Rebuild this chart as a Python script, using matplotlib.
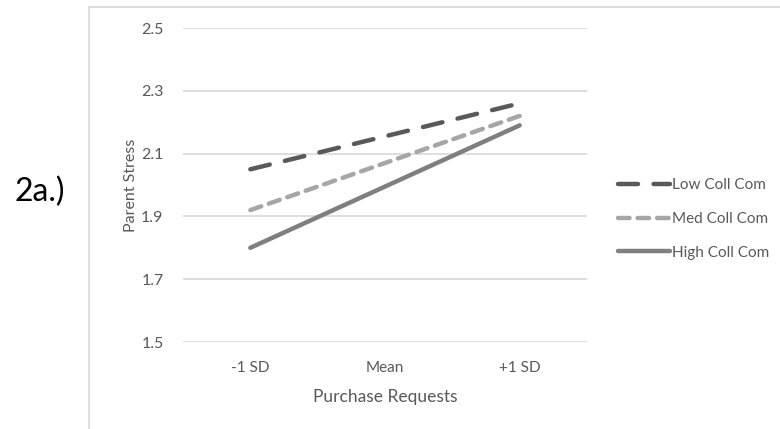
import matplotlib.pyplot as plt
from matplotlib.patches import Rectangle

# simple slopes: parent stress by purchase requests at three levels of collective communication
levels = ['-1 SD', 'Mean', '+1 SD']
low_coll = [2.05, 2.155, 2.26]
med_coll = [1.92, 2.07, 2.22]
high_coll = [1.80, 1.995, 2.19]
series_names = ['Low Coll Com', 'Med Coll Com', 'High Coll Com']
yticks = [1.5, 1.7, 1.9, 2.1, 2.3, 2.5]

plt.rcParams['font.family'] = ['Lato', 'DejaVu Sans']
text_col = '#595959'

fig = plt.figure(figsize=(7.8, 4.29), dpi=100)
fig.patch.set_facecolor('white')

# chart border (open at the bottom/right like a cropped office chart)
fig.add_artist(Rectangle((89 / 780, -0.1), 1.0, 1 - 7 / 429 + 0.1,
                         transform=fig.transFigure, fill=False,
                         edgecolor='#d9d9d9', linewidth=1.2))

ax = fig.add_axes([183 / 780, 1 - 342 / 429, 404 / 780, 314 / 429])
x = range(len(levels))
ax.plot(x, low_coll, color='#595959', lw=3.2, dashes=(4.5, 3.5),
        solid_capstyle='round', dash_capstyle='round', label=series_names[0])
ax.plot(x, med_coll, color='#a6a6a6', lw=3.2, dashes=(2.6, 1.8),
        dash_capstyle='round', label=series_names[1])
ax.plot(x, high_coll, color='#7f7f7f', lw=3.2, solid_capstyle='round',
        label=series_names[2])

ax.set_xlim(-0.5, 2.5)
ax.set_ylim(1.5, 2.5)
ax.set_yticks(yticks)
ax.set_yticklabels(['%.1f' % t for t in yticks])
ax.set_xticks(list(x))
ax.set_xticklabels(levels)
ax.grid(axis='y', color='#d9d9d9', lw=1.2)
ax.set_axisbelow(True)
for s in ax.spines.values():
    s.set_visible(False)
ax.tick_params(length=0, labelsize=11, colors=text_col)
ax.tick_params(axis='x', pad=14)
ax.tick_params(axis='y', pad=14, labelsize=11.5)
ax.set_ylabel('Parent Stress', fontsize=11.5, color=text_col, labelpad=2)
ax.set_xlabel('Purchase Requests', fontsize=12.5, color=text_col, labelpad=10)

ax.legend(loc='center left', bbox_to_anchor=(1.062, 0.392), frameon=False,
          fontsize=11, labelcolor=text_col, handlelength=3.4,
          handletextpad=0.15, labelspacing=1.3, borderaxespad=0)

fig.text(15 / 780, 1 - 192 / 429, '2a.)', fontsize=23, color='black',
         va='center', ha='left')

fig.savefig('out.png', dpi=100, facecolor='white')
